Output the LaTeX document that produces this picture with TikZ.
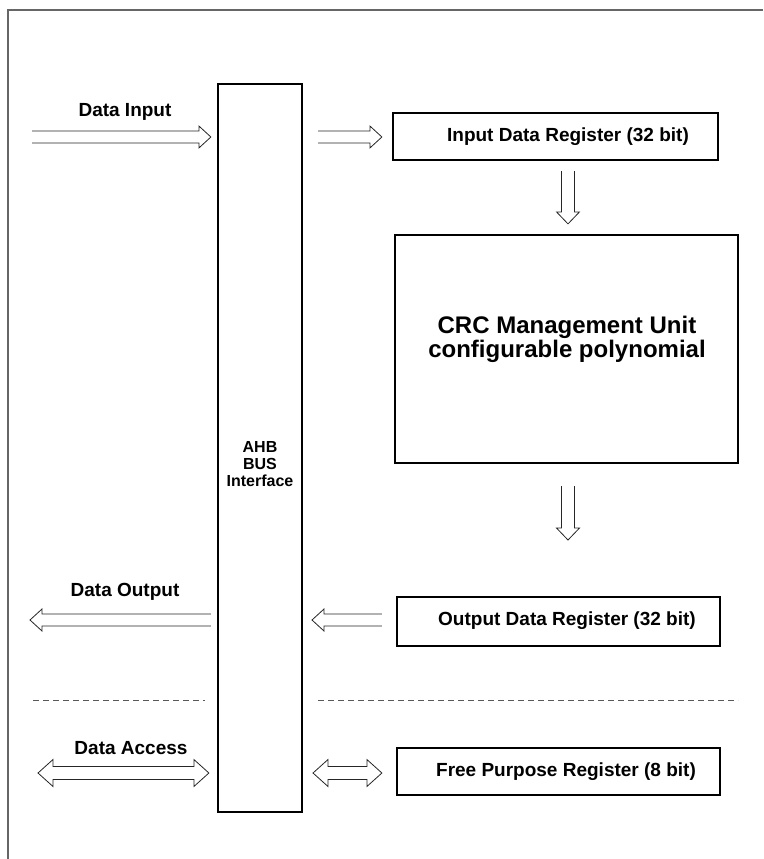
\documentclass[tikz,border=0pt]{standalone}
\usepackage{fontspec}
\setmainfont{Liberation Sans}
\usetikzlibrary{calc}
\def\aw{6pt}\def\ahw{11pt}\def\al{12pt}
\tikzset{
  box/.style={draw=black, line width=2.2pt, inner sep=0pt},
  lbl/.style={font=\bfseries\fontsize{19}{22}\selectfont, inner sep=0pt},
  boxtxt/.style={font=\bfseries\fontsize{19}{22}\selectfont, inner sep=0pt},
  aw/.code={\def\aw{#1}}, ahw/.code={\def\ahw{#1}}, al/.code={\def\al{#1}},
  arrline/.style={draw=black!85, line width=0.8pt, line join=miter},
  hollow/.style={arrline, to path={
    ($(\tikztostart)!\aw!90:(\tikztotarget)$)
    -- ($(\tikztotarget)!\al!(\tikztostart)!\aw!90:(\tikztotarget)$)
    -- ($(\tikztotarget)!\al!(\tikztostart)!\ahw!90:(\tikztotarget)$)
    -- (\tikztotarget)
    -- ($(\tikztotarget)!\al!(\tikztostart)!\ahw!-90:(\tikztotarget)$)
    -- ($(\tikztotarget)!\al!(\tikztostart)!\aw!-90:(\tikztotarget)$)
    -- ($(\tikztostart)!\aw!-90:(\tikztotarget)$)}},
  hollowboth/.style={arrline, to path={
    (\tikztostart)
    -- ($(\tikztostart)!\al!(\tikztotarget)!\ahw!90:(\tikztotarget)$)
    -- ($(\tikztostart)!\al!(\tikztotarget)!\aw!90:(\tikztotarget)$)
    -- ($(\tikztotarget)!\al!(\tikztostart)!\aw!90:(\tikztotarget)$)
    -- ($(\tikztotarget)!\al!(\tikztostart)!\ahw!90:(\tikztotarget)$)
    -- (\tikztotarget)
    -- ($(\tikztotarget)!\al!(\tikztostart)!\ahw!-90:(\tikztotarget)$)
    -- ($(\tikztotarget)!\al!(\tikztostart)!\aw!-90:(\tikztotarget)$)
    -- ($(\tikztostart)!\al!(\tikztotarget)!\aw!-90:(\tikztotarget)$)
    -- ($(\tikztostart)!\al!(\tikztotarget)!\ahw!-90:(\tikztotarget)$)
    -- cycle}},
  sep/.style={draw=black!65, line width=0.8pt, dash pattern=on 6pt off 4pt},
}
\begin{document}
\begin{tikzpicture}[x=1pt, y=-1pt]
\useasboundingbox (0,0) rectangle (763,859);
\fill[white] (0,0) rectangle (763,859);
% outer frame
\coordinate (fbl) at (8,859);
\coordinate (ftl) at (8,10);
\coordinate (ftr) at (763,10);
\draw[black!60, line width=1.5pt] (fbl) -- (ftl) -- (ftr);

% boxes
\node[box, minimum width=84pt, minimum height=728pt] (ahb) at (260,448) {};
\node[font=\bfseries\fontsize{16}{17}\selectfont, align=center, inner sep=0pt] (ahbt) at (260,464) {AHB\\BUS\\Interface};
\node[box, minimum width=325pt, minimum height=47pt] (idr) at (555.5,136.5) {};
\node[boxtxt] (idrt) at (568,137) {Input Data Register (32 bit)};
\node[box, minimum width=343pt, minimum height=228pt] (crc) at (566.5,349) {};
\node[font=\bfseries\fontsize{24}{24}\selectfont, align=center, inner sep=0pt] (crct) at (567,339) {CRC Management Unit\\configurable polynomial};
\node[box, minimum width=323pt, minimum height=49pt] (odr) at (558.5,621.5) {};
\node[boxtxt] (odrt) at (567,621) {Output Data Register (32 bit)};
\node[box, minimum width=323pt, minimum height=47pt] (fpr) at (558.5,771.5) {};
\node[boxtxt] (fprt) at (566,772) {Free Purpose Register (8 bit)};

% labels
\node[lbl] (tin) at (125,112) {Data Input};
\node[lbl] (tout) at (125,592) {Data Output};
\node[lbl] (tacc) at (131,748) {Data Access};

% arrow end points
\coordinate (diS) at (32,137);
\coordinate (diE) at ([xshift=-6pt]ahb.west |- diS);
\coordinate (inS) at (318,137);
\coordinate (inE) at ([xshift=-10pt]idr.west |- inS);
\coordinate (d1S) at ([yshift=-10pt]idr.south -| 568,0);
\coordinate (d1E) at ([yshift=10pt]crc.north -| 568,0);
\coordinate (d2S) at ([yshift=-22pt]crc.south -| 568,0);
\coordinate (d2E) at (568,540);
\coordinate (ouS) at ([xshift=-14pt]odr.west |- 0,620);
\coordinate (ouE) at (312,620);
\coordinate (doS) at ([xshift=-6pt]ahb.west |- 0,620);
\coordinate (doE) at (30,620);
\coordinate (daA) at (38,773);
\coordinate (daB) at ([xshift=-8pt]ahb.west |- daA);
\coordinate (fpA) at (313,773);
\coordinate (fpB) at ([xshift=-14pt]fpr.west |- fpA);

\draw[hollow] (diS) to (diE);
\draw[hollow] (inS) to (inE);
\draw[hollow, aw=6.5pt, ahw=11.5pt] (d1S) to (d1E);
\draw[hollow, aw=6.5pt, ahw=11.5pt] (d2S) to (d2E);
\draw[hollow] (ouS) to (ouE);
\draw[hollow] (doS) to (doE);
\draw[hollowboth, aw=6.5pt, ahw=13.5pt, al=15pt] (daA) to (daB);
\draw[hollowboth, aw=6.5pt, ahw=13.5pt, al=15pt] (fpA) to (fpB);

% separators
\coordinate (s1a) at (33,700);
\coordinate (s1b) at (205,700);
\coordinate (s2a) at (318,700);
\coordinate (s2b) at (738,700);
\draw[sep] (s1a) -- (s1b);
\draw[sep] (s2a) -- (s2b);
\end{tikzpicture}
\end{document}
